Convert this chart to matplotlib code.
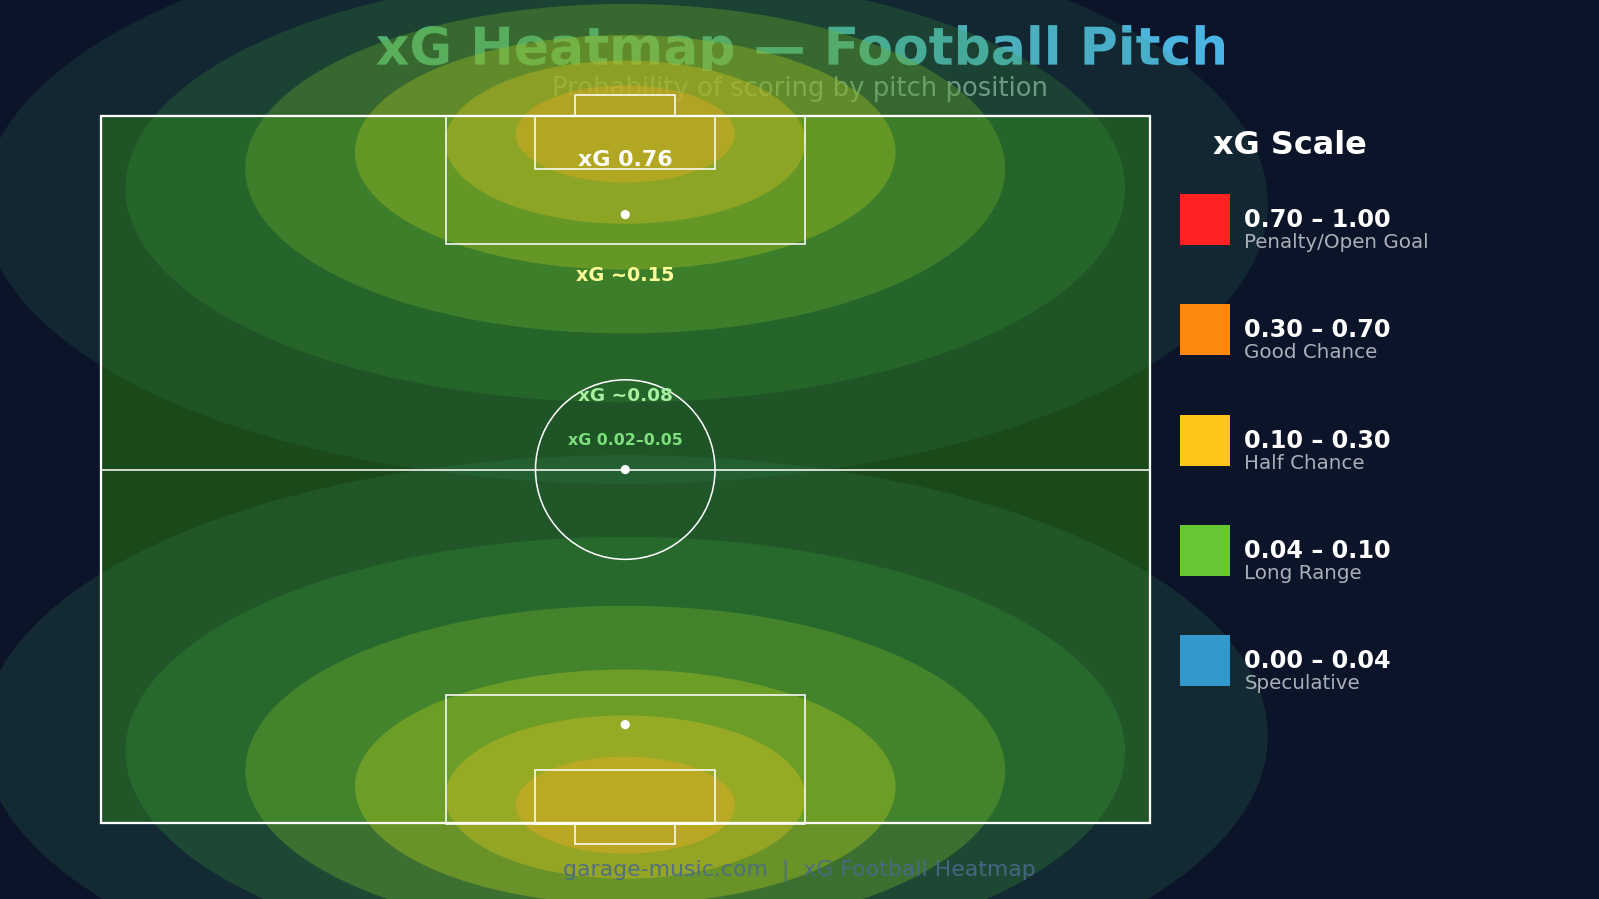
import numpy as np
import matplotlib
matplotlib.use("Agg")
import matplotlib.pyplot as plt
from matplotlib.patches import Ellipse, Rectangle, Circle, PathPatch
from matplotlib.textpath import TextPath
from matplotlib.font_manager import FontProperties
from matplotlib.transforms import Affine2D
from matplotlib.colors import LinearSegmentedColormap

BG = "#0b1428"
PITCH = "#1a4a1a"

# heat layers (outer -> inner): width, height, centre offset from goal line, colour, alpha
layer_w = [1260, 980, 745, 530, 353, 215]
layer_h = [550, 420, 323, 230, 160, 95]
layer_cy = [200, 185, 166, 150, 140, 132]
layer_col = ["#3c8f6a", "#3a9a3a", "#6aac2c", "#9cbc22", "#c0b824", "#d8aa22"]
layer_alpha = [0.16, 0.24, 0.36, 0.42, 0.45, 0.5]

zone_text = ["xG 0.76", "xG ~0.15", "xG ~0.08", "xG 0.02–0.05"]
zone_y = [157, 270, 388, 432]
zone_col = ["white", "#ffff99", "#a6f0a0", "#7de07d"]
zone_size = [19.5, 17, 16.3, 14]

legend_ranges = ["0.70 – 1.00", "0.30 – 0.70", "0.10 – 0.30", "0.04 – 0.10", "0.00 – 0.04"]
legend_names = ["Penalty/Open Goal", "Good Chance", "Half Chance", "Long Range", "Speculative"]
legend_cols = ["#ff2222", "#ff8811", "#ffc61a", "#66c633", "#3399cc"]

fig = plt.figure(figsize=(15.68, 8.82), dpi=102, facecolor=BG)
ax = fig.add_axes([0, 0, 1, 1])
ax.set_xlim(0, 1568)
ax.set_ylim(882, 0)
ax.axis("off")
ax.set_facecolor(BG)

# title with gradient fill
fp = FontProperties(family="DejaVu Sans", weight="bold")
tp = TextPath((0, 0), "xG Heatmap — Football Pitch", size=51, prop=fp)
bb = tp.get_extents()
tx = 784 - bb.width / 2
tr = Affine2D().scale(1, -1).translate(tx, 64)
patch = PathPatch(tr.transform_path(tp), facecolor="none", edgecolor="none")
ax.add_patch(patch)
grad = LinearSegmentedColormap.from_list("g", ["#5cc08a", "#4ab4e6"])
im = ax.imshow(np.linspace(0, 1, 256)[None, :], cmap=grad, aspect="auto",
               extent=(tx, tx + bb.width, 64 + 6, 64 - 48), zorder=1)
im.set_clip_path(patch)
ax.set_xlim(0, 1568)
ax.set_ylim(882, 0)

ax.text(784, 87, "Probability of scoring by pitch position", ha="center", va="center",
        fontsize=18.3, color="#8a9aa8", zorder=1)

# pitch
ax.add_patch(Rectangle((99, 114), 1028, 693, facecolor=PITCH, edgecolor="none", zorder=2))

for w, h, cy, c, a in zip(layer_w, layer_h, layer_cy, layer_col, layer_alpha):
    ax.add_patch(Ellipse((613, cy), w, h, facecolor=c, alpha=a, edgecolor="none", zorder=3))
    ax.add_patch(Ellipse((613, 922 - cy), w, h, facecolor=c, alpha=min(a * 1.12, 1),
                         edgecolor="none", zorder=3))

ax.text(784, 853, "garage-music.com  |  xG Football Heatmap", ha="center", va="center",
        fontsize=15.5, color="#4a6a8a", alpha=0.9, zorder=3.5)

lc = dict(facecolor="none", edgecolor="white", zorder=4)
ax.add_patch(Rectangle((99, 114), 1028, 693, lw=1.6, **lc))
ax.plot([99, 1127], [461, 461], color="white", lw=1.1, zorder=4)
ax.add_patch(Circle((613, 461), 88, lw=1.1, **lc))
ax.add_patch(Circle((613, 461), 4.5, facecolor="white", zorder=4))
for top in (True, False):
    m = (lambda y: y) if top else (lambda y: 922 - y)
    ax.add_patch(Rectangle((437, min(m(114), m(240))), 352, 126, lw=1.1, **lc))
    ax.add_patch(Rectangle((525, min(m(114), m(166))), 176, 52, lw=1.1, **lc))
    ax.add_patch(Rectangle((564, min(m(94), m(114))), 98, 20, lw=1.1, **lc))
    ax.add_patch(Circle((613, m(211)), 4.5, facecolor="white", zorder=4))

for t, y, c, s in zip(zone_text, zone_y, zone_col, zone_size):
    ax.text(613, y, t, ha="center", va="center", fontsize=s * 0.8, fontweight="bold", color=c, zorder=5)

# legend
ax.text(1265, 143, "xG Scale", ha="center", va="center", fontsize=22.5, fontweight="bold",
        color="white", zorder=5)
for i, (r, n, c) in enumerate(zip(legend_ranges, legend_names, legend_cols)):
    y0 = 191 + i * 108
    ax.add_patch(Rectangle((1157, y0), 49, 50, facecolor=c, edgecolor="none", zorder=5))
    ax.text(1220, y0 + 25, r, ha="left", va="center", fontsize=16.9, fontweight="bold",
            color="white", zorder=5)
    ax.text(1220, y0 + 47, n, ha="left", va="center", fontsize=14, color="#aab0b8", zorder=5)

fig.savefig("out.png", dpi=102, facecolor=BG)
